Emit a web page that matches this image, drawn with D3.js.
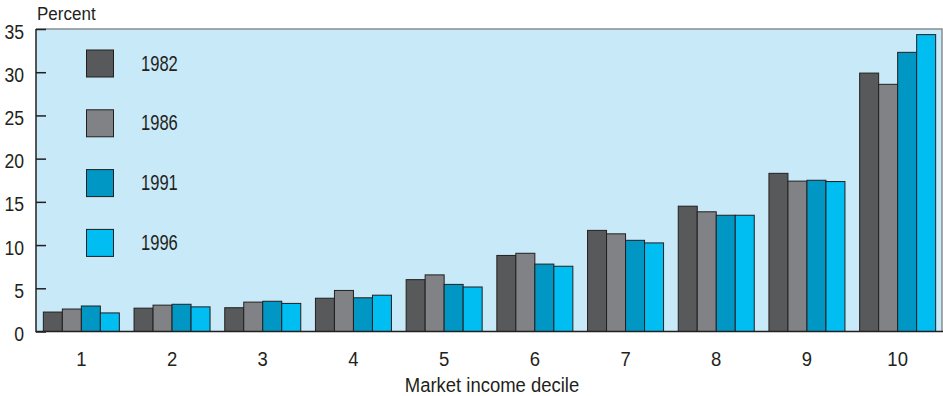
<!DOCTYPE html>
<html>
<head>
<meta charset="utf-8">
<script src="https://cdn.jsdelivr.net/npm/d3@7"></script>
<style>
  html, body { margin: 0; padding: 0; background: #ffffff; }
  svg { display: block; }
  text { font-family: "Liberation Sans", Arial, Helvetica, sans-serif; fill: #231f20; }
</style>
</head>
<body>
<svg id="chart" width="943" height="396"></svg>
<script>
// Share of market income by decile, four survey years
const deciles = ["1", "2", "3", "4", "5", "6", "7", "8", "9", "10"];
const years = ["1982", "1986", "1991", "1996"];
const share1982 = [2.25, 2.7, 2.75, 3.85, 6.0, 8.8, 11.7, 14.5, 18.3, 29.9];
const share1986 = [2.6, 3.05, 3.4, 4.75, 6.55, 9.05, 11.3, 13.85, 17.4, 28.6];
const share1991 = [2.95, 3.15, 3.5, 3.9, 5.45, 7.8, 10.55, 13.45, 17.5, 32.3];
const share1996 = [2.15, 2.85, 3.25, 4.2, 5.15, 7.55, 10.25, 13.45, 17.35, 34.35];
const yTicks = [0, 5, 10, 15, 20, 25, 30, 35];
const yearColors = ["#58595b", "#808285", "#0097c4", "#00bdf2"];

const seriesByYear = [share1982, share1986, share1991, share1996];

const svg = d3.select("#chart");
const plot = { left: 36, right: 942, top: 29, bottom: 331.5 };

const y = d3.scaleLinear().domain([0, 35]).range([plot.bottom, plot.top]);
const x0 = d3.scaleBand().domain(deciles).range([plot.left, plot.right + 1])
  .paddingInner(0.162).paddingOuter(0.081);
const x1 = d3.scaleBand().domain(years).range([0, x0.bandwidth()]);
const color = d3.scaleOrdinal().domain(years).range(yearColors);

// Horizontally condensed label helper
function label(g, txt, xPos, yPos, size, sx, anchor) {
  return g.append("text")
    .attr("transform", `translate(${xPos},${yPos}) scale(${sx},1)`)
    .attr("text-anchor", anchor || "start")
    .style("font-size", size + "px")
    .text(txt);
}

// Plot background
svg.append("rect")
  .attr("x", plot.left).attr("y", plot.top)
  .attr("width", plot.right - plot.left).attr("height", plot.bottom - plot.top)
  .attr("fill", "#c8e9f8");

// Frame: top and right in grey
svg.append("path")
  .attr("d", `M${plot.left},${plot.top}H${plot.right}V${plot.bottom}`)
  .attr("fill", "none").attr("stroke", "#8a8c8e").attr("stroke-width", 1.5);

// Bars
const groups = svg.append("g").selectAll("g")
  .data(deciles)
  .join("g")
  .attr("transform", d => `translate(${x0(d)},0)`);

groups.selectAll("rect")
  .data((d, i) => years.map((yr, k) => ({ year: yr, value: seriesByYear[k][i] })))
  .join("rect")
  .attr("x", d => x1(d.year))
  .attr("y", d => y(d.value))
  .attr("width", x1.bandwidth())
  .attr("height", d => y(0) - y(d.value))
  .attr("fill", d => color(d.year))
  .attr("stroke", "#231f20")
  .attr("stroke-width", 1);

// Y axis with inward ticks
const yAxis = svg.append("g")
  .attr("transform", `translate(${plot.left},0)`)
  .call(d3.axisRight(y).tickValues(yTicks).tickSize(10).tickFormat(""));
yAxis.select(".domain").remove();
yAxis.selectAll(".tick line").attr("stroke", "#231f20").attr("stroke-width", 1.5);

yTicks.forEach(t => {
  label(svg, String(t), 24, y(t) + 9.5, 21, 0.84, "end");
});

svg.append("line")
  .attr("x1", plot.left).attr("x2", plot.left)
  .attr("y1", plot.top).attr("y2", plot.bottom + 0.75)
  .attr("stroke", "#231f20").attr("stroke-width", 1.5);

// X axis
svg.append("line")
  .attr("x1", plot.left).attr("x2", plot.right + 1)
  .attr("y1", plot.bottom).attr("y2", plot.bottom)
  .attr("stroke", "#231f20").attr("stroke-width", 1.5);

deciles.forEach(d => {
  label(svg, d, x0(d) + x0.bandwidth() / 2, 366, 21, 0.88, "middle");
});

label(svg, "Market income decile", (405 + 579) / 2, 391.5, 21, 0.88, "middle");
label(svg, "Percent", 37, 19.5, 18.5, 0.92, "start");

// Legend
const legend = svg.append("g");
years.forEach((yr, i) => {
  const top = 50 + i * 59.8;
  legend.append("rect")
    .attr("x", 86.5).attr("y", top)
    .attr("width", 27).attr("height", 27)
    .attr("fill", color(yr))
    .attr("stroke", "#231f20").attr("stroke-width", 1);
  label(legend, yr, 141, top + 20.5, 21.5, 0.77, "start");
});
</script>
</body>
</html>
